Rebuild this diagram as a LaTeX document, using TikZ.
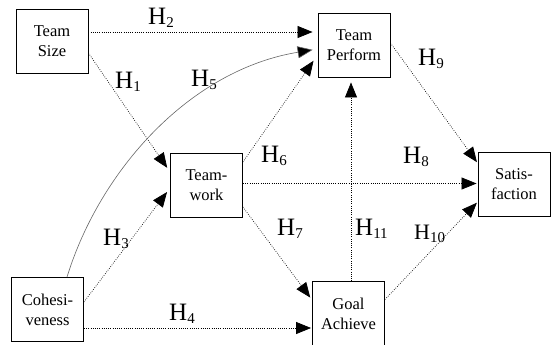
\documentclass[tikz,border=0pt]{standalone}
\usepackage{fontspec}
\setmainfont{Liberation Serif}
\usetikzlibrary{arrows.meta,calc}
\newcommand{\hlab}[2][25]{{\fontsize{#1}{#1}\selectfont H}\raisebox{-3pt}{\fontsize{15}{15}\selectfont #2}}
\begin{document}
\begin{tikzpicture}[x=1pt,y=-1pt,
  box/.style={draw,line width=0.9pt,minimum width=72pt,minimum height=64pt,inner sep=0pt,align=center,font=\fontsize{16.5}{20}\selectfont},
  dotarrow/.style={line width=0.7pt,dash pattern=on 0.7pt off 1.5pt,-{Triangle[length=15pt,width=12pt]}},
  curvearrow/.style={line width=0.6pt,draw=black!60,-{Triangle[length=15pt,width=12pt,fill=black]}},
  lab/.style={anchor=base west,inner sep=0pt}]
\useasboundingbox (0,0) rectangle (551,345);
\node[box] (TS) at (52,41) {Team\\Size};
\node[box] (TP) at (354,45) {Team\\Perform};
\node[box] (TW) at (206.5,185) {Team-\\work};
\node[box] (SA) at (514,184) {Satis-\\faction};
\node[box] (CO) at (47.5,309.5) {Cohesi-\\veness};
\node[box] (GA) at (348.5,313.5) {Goal\\Achieve};
% connectors
\draw[dotarrow,shorten >=5pt] ([yshift=9pt]TS.east) -- ([yshift=13pt]TP.west);
\draw[dotarrow,shorten >=5pt] ([yshift=-12pt]TS.east) -- ([yshift=13pt]TW.west);
\draw[dotarrow,shorten >=5pt] ([yshift=7.5pt]CO.east) -- ([yshift=-3pt]TW.west);
\draw[dotarrow,shorten >=1pt] ([yshift=-18.5pt]CO.east) -- ([yshift=-14.5pt]GA.west);
\draw[curvearrow,shorten >=5pt] ([xshift=19.5pt]CO.north) .. controls (100,170) and (190,70) .. ([yshift=-4pt]TP.west);
\draw[dotarrow,shorten >=7pt] ([yshift=23pt]TW.east) -- ([yshift=-10pt]TP.west);
\draw[dotarrow,shorten >=3pt] ([yshift=-22pt]TW.east) -- ([yshift=13.5pt]GA.west);
\draw[dotarrow,shorten >=1pt] ([yshift=1.5pt]TW.east) -- ([yshift=0.5pt]SA.west);
\draw[dotarrow,shorten >=1pt] ([yshift=2pt]TP.east) -- ([yshift=21pt]SA.west);
\draw[dotarrow,shorten >=1pt] ([yshift=14pt]GA.east) -- ([yshift=-18pt]SA.west);
\draw[dotarrow,shorten >=5pt] ([xshift=2.5pt]GA.north) -- ([xshift=-3pt]TP.south);
% labels
\node[lab] (L1) at (115,88) {\hlab{1}};
\node[lab] (L2) at (148,25) {\hlab{2}};
\node[lab] (L3) at (103,245) {\hlab{3}};
\node[lab] (L4) at (169,320) {\hlab{4}};
\node[lab] (L5) at (191,86) {\hlab{5}};
\node[lab] (L6) at (261,162) {\hlab{6}};
\node[lab] (L7) at (277,235) {\hlab{7}};
\node[lab] (L8) at (403,163) {\hlab{8}};
\node[lab] (L9) at (418,65) {\hlab{9}};
\node[lab] (L10) at (414,239) {\hlab[22]{10}};
\node[lab] (L11) at (355,235) {\hlab{11}};
\end{tikzpicture}
\end{document}
